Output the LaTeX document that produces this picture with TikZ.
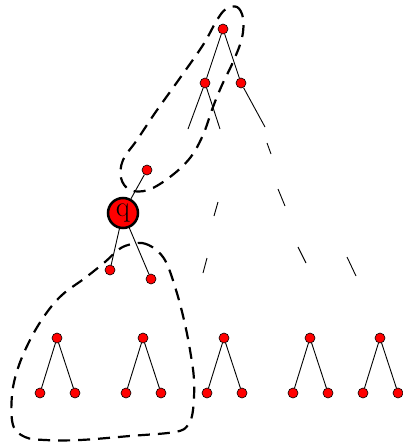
\documentclass[tikz,border=0pt]{standalone}
\begin{document}
\begin{tikzpicture}[x=1pt,y=-1pt,
  dot/.style={circle, fill=red, draw=black, line width=0.6pt, inner sep=0pt, minimum size=10pt},
  qnode/.style={circle, fill=red, draw=black, line width=2.5pt, inner sep=0pt, minimum size=30pt, font=\fontsize{29}{29}\selectfont},
  edge/.style={line width=0.9pt},
  faint/.style={line width=0.9pt},
  hull/.style={line width=2.2pt, dash pattern=on 12pt off 8pt}]
\useasboundingbox (0,0) rectangle (403,442);
% upper tree
\node[dot] (R) at (223,29) {};
\node[dot] (L1) at (205,83) {};
\node[dot] (R1) at (241,83) {};
\coordinate (l1a) at (188,129);
\coordinate (l1b) at (220,129);
\coordinate (r1a) at (265,127);
\draw[edge] (R) -- (L1);
\draw[edge] (R) -- (R1);
\draw[edge] (L1) -- (l1a);
\draw[edge] (L1) -- (l1b);
\draw[edge] (R1) -- (r1a);
% q part
\node[dot] (P) at (147,170) {};
\node[qnode] (q) at (123,213) {q};
\node[dot] (qa) at (110,270) {};
\node[dot] (qb) at (151,279) {};
\draw[edge] (P) -- (q);
\draw[edge] (q) -- (qa);
\draw[edge] (q) -- (qb);
% bottom subtrees
\foreach \i/\x in {1/57,2/143,3/224,4/310,5/380}{
  \node[dot] (s\i) at (\x,338) {};
  \node[dot] (s\i a) at (\x-17,393) {};
  \node[dot] (s\i b) at (\x+18,393) {};
  \draw[edge] (s\i) -- (s\i a);
  \draw[edge] (s\i) -- (s\i b);
}
% sparse dashed lines
\coordinate (a1) at (218,202); \coordinate (a2) at (214,216);
\coordinate (a3) at (207,258); \coordinate (a4) at (203,273);
\coordinate (b1) at (267,143); \coordinate (b2) at (271,154);
\coordinate (b3) at (278,189); \coordinate (b4) at (285,206);
\coordinate (b5) at (298,247); \coordinate (b6) at (306,263);
\coordinate (c1) at (347,257); \coordinate (c2) at (356,276);
\draw[faint] (a1) -- (a2) (a3) -- (a4);
\draw[faint] (b1) -- (b2) (b3) -- (b4) (b5) -- (b6);
\draw[faint] (c1) -- (c2);
% hulls
\draw[hull] plot[smooth cycle, tension=0.6] coordinates {
  (226,9) (237,7) (243,18) (242,38) (233,62) (222,85) (213,107) (203,135)
  (190,158) (170,177) (148,190) (130,190) (121,178) (123,160) (137,140)
  (155,113) (180,78) (203,45) (217,20)};
\draw[hull] plot[smooth cycle, tension=0.6] coordinates {
  (128,245) (142,243) (155,249) (166,262) (176,290) (184,320) (190,350)
  (194,380) (193,410) (188,425) (175,432) (130,436) (80,440) (45,440)
  (25,437) (13,425) (12,395) (18,368) (30,340) (45,315) (62,295) (85,278)
  (105,262) (118,250)};
\end{tikzpicture}
\end{document}
